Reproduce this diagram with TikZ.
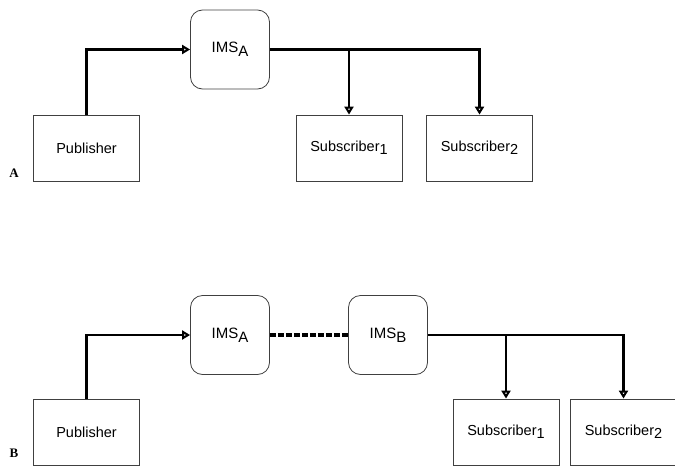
\documentclass[tikz,border=0pt]{standalone}
\usepackage{fontspec}
\setmainfont{Liberation Serif}
\setsansfont{Liberation Sans}
\usetikzlibrary{arrows.meta}
\newcommand{\lowsub}[1]{\raisebox{-0.45ex}{#1}}
\tikzset{
	endbox/.style={draw=black!75, line width=0.8pt, minimum width=106pt, minimum height=66pt, font=\sffamily\fontsize{14.5}{16}\selectfont},
	imsbox/.style={draw=black!75, line width=0.8pt, rounded corners=12pt, minimum width=79pt, minimum height=79pt, font=\sffamily\fontsize{15}{17}\selectfont},
	flow/.style={line width=2.5pt, -{Triangle[open, length=8pt, width=9pt]}},
	partlabel/.style={font=\bfseries\fontsize{13}{14}\selectfont}
}

\begin{document}
\begin{tikzpicture}[x=1pt, y=-1pt]
	\useasboundingbox (0,0) rectangle (675,466);
	% part A
	\node[endbox] (pubA) at (86.5,148){Publisher};
	\node[imsbox] (imsA) at (230,49.5){IMS\lowsub{A}};
	\node[endbox] (subA1) at (349,148){Subscriber\lowsub{1}};
	\node[endbox] (subA2) at (479.5,148){Subscriber\lowsub{2}};
	\node[partlabel] (labA) at (14,173){A};
	\draw[flow] (pubA.north) |- (imsA.west);
	\coordinate (jA) at (imsA.east -| subA1.north);
	\draw[flow] (jA) -- (subA1.north);
	\draw[flow] (imsA.east) -| (subA2.north);
	% part B
	\node[endbox] (pubB) at (86.5,432){Publisher};
	\node[imsbox] (imsBa) at (230,335){IMS\lowsub{A}};
	\node[imsbox] (imsBb) at (388,335){IMS\lowsub{B}};
	\node[endbox] (subB1) at (506,432){Subscriber\lowsub{1}};
	\node[endbox] (subB2) at (623.5,432){Subscriber\lowsub{2}};
	\node[partlabel] (labB) at (14,453){B};
	\draw[flow] (pubB.north) |- (imsBa.west);
	\draw[line width=4pt, dash pattern=on 6pt off 2pt] (imsBa.east) -- (imsBb.west);
	\coordinate (jB) at (imsBb.east -| subB1.north);
	\draw[flow] (jB) -- (subB1.north);
	\draw[flow] (imsBb.east) -| (subB2.north);
\end{tikzpicture}
\end{document}
